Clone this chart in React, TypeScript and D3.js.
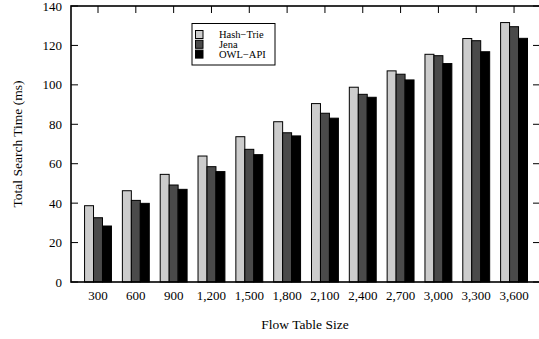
import * as React from "react";
import * as d3 from "d3";

const categories = ["300", "600", "900", "1,200", "1,500", "1,800", "2,100", "2,400", "2,700", "3,000", "3,300", "3,600"];
const seriesNames = ["Hash\u2212Trie", "Jena", "OWL\u2212API"];
const seriesColors = ["#cccccc", "#4a4a4a", "#000000"];

const hashTrie = [38.7, 46.3, 54.6, 63.9, 73.7, 81.3, 90.5, 98.8, 107.1, 115.5, 123.5, 131.6];
const jena = [32.6, 41.4, 49.2, 58.5, 67.3, 75.7, 85.6, 95.2, 105.4, 114.8, 122.4, 129.5];
const owlApi = [28.4, 39.9, 47.0, 56.0, 64.6, 74.1, 83.1, 93.7, 102.5, 110.8, 116.8, 123.6];

const yTicks = [0, 20, 40, 60, 80, 100, 120, 140];

const W = 539;
const H = 339;
const FONT = "'Liberation Serif', 'Times New Roman', serif";

export default function App() {
  const ref = React.useRef<SVGSVGElement>(null);

  React.useEffect(() => {
    const svg = d3.select(ref.current);
    svg.selectAll("*").remove();

    const left = 71, right = 540, top = 6, bottom = 282;
    const series = [hashTrie, jena, owlApi];

    // gnuplot-like histogram: linear x with group index
    const x = d3.scaleLinear().domain([-0.714, 11.686]).range([left, right]);
    const y = d3.scaleLinear().domain([0, 140]).range([bottom, top]);
    const barW = 0.237;

    const g = svg.append("g");

    // ticks on left & right (inside)
    yTicks.forEach((t) => {
      g.append("line").attr("x1", left).attr("x2", left + 7).attr("y1", y(t)).attr("y2", y(t))
        .attr("stroke", "#000").attr("stroke-width", 1);
      g.append("line").attr("x1", right - 7).attr("x2", right).attr("y1", y(t)).attr("y2", y(t))
        .attr("stroke", "#000").attr("stroke-width", 1);
      g.append("text").attr("x", 62).attr("y", y(t)).attr("dy", "0.35em")
        .attr("text-anchor", "end").attr("font-family", FONT).attr("font-size", 13)
        .text(String(t));
    });

    // top ticks at category centers
    categories.forEach((c, i) => {
      g.append("line").attr("x1", x(i)).attr("x2", x(i)).attr("y1", top).attr("y2", top + 7)
        .attr("stroke", "#000").attr("stroke-width", 1);
      g.append("text").attr("x", x(i)).attr("y", 300)
        .attr("text-anchor", "middle").attr("font-family", FONT).attr("font-size", 13)
        .text(c);
    });

    // bars
    series.forEach((vals, s) => {
      g.selectAll(null)
        .data(vals)
        .enter()
        .append("rect")
        .attr("x", (d, i) => x(i + (s - 1.5) * barW))
        .attr("y", (d) => y(d))
        .attr("width", x(barW) - x(0))
        .attr("height", (d) => y(0) - y(d))
        .attr("fill", seriesColors[s])
        .attr("stroke", "#000")
        .attr("stroke-width", 1);
    });

    // frame
    g.append("rect").attr("x", left).attr("y", top).attr("width", right - left).attr("height", bottom - top)
      .attr("fill", "none").attr("stroke", "#000").attr("stroke-width", 1.6);

    // legend
    const lg = g.append("g");
    lg.append("rect").attr("x", 192).attr("y", 23.5).attr("width", 83).attr("height", 41.5)
      .attr("fill", "#fff").attr("stroke", "#000").attr("stroke-width", 1);
    seriesNames.forEach((n, i) => {
      const cy = 34.5 + i * 9.8;
      lg.append("rect").attr("x", 195.5).attr("y", cy - 4).attr("width", 7.5).attr("height", 8)
        .attr("fill", seriesColors[i]).attr("stroke", "#000").attr("stroke-width", 1);
      lg.append("text").attr("x", 219).attr("y", cy).attr("dy", "0.35em")
        .attr("font-family", FONT).attr("font-size", 10.5).text(n);
    });

    // axis titles
    g.append("text").attr("x", 305).attr("y", 329).attr("text-anchor", "middle")
      .attr("font-family", FONT).attr("font-size", 13.5).text("Flow Table Size");
    g.append("text").attr("transform", `translate(22,${(top + bottom) / 2}) rotate(-90)`)
      .attr("text-anchor", "middle").attr("font-family", FONT).attr("font-size", 13.5)
      .text("Total Search Time (ms)");
  }, []);

  return (
    <svg ref={ref} width={W} height={H} style={{ position: "absolute", left: 0, top: 0, background: "#fff" }} />
  );
}
